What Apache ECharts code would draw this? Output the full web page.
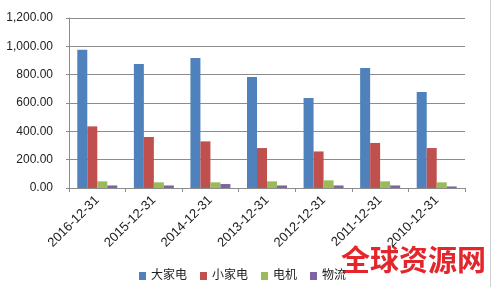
<!DOCTYPE html>
<html>
<head>
<meta charset="utf-8">
<script src="https://cdn.jsdelivr.net/npm/echarts@6/dist/echarts.min.js"></script>
<style>
html,body{margin:0;padding:0;background:#fff;}
#c{width:496px;height:287px;}
</style>
</head>
<body>
<div id="c"></div>
<script>
var categories = ['2016-12-31','2015-12-31','2014-12-31','2013-12-31','2012-12-31','2011-12-31','2010-12-31'];
var seriesNames = ['大家电','小家电','电机','物流'];
var bigAppliance = [976, 875, 918, 783, 635, 847, 678];
var smallAppliance = [435, 360, 329, 282, 258, 318, 282];
var motor = [47, 40, 40, 47, 54, 47, 40];
var logistics = [18, 18, 28, 18, 18, 18, 11];
var yTicks = [0, 200, 400, 600, 800, 1000, 1200];
var watermark = '全球资源网';

var colors = ['#4F81BD','#C0504D','#9BBB59','#8064A2'];
var seriesData = [bigAppliance, smallAppliance, motor, logistics];

function fmt(v){
  var s = v.toFixed(2);
  var parts = s.split('.');
  parts[0] = parts[0].replace(/\B(?=(\d{3})+(?!\d))/g, ',');
  return parts.join('.');
}

var chart = echarts.init(document.getElementById('c'), null, {renderer:'canvas'});
var fontFam = '"Liberation Sans","Noto Sans CJK SC",sans-serif';
chart.setOption({
  animation:false,
  backgroundColor:'#fff',
  color: colors,
  grid:{left:69, right:31, top:18, bottom:99},
  legend:{
    data: seriesNames,
    left:134, top:265,
    itemWidth:7, itemHeight:8, itemGap:13,
    icon:'rect',
    textStyle:{fontSize:12, color:'#222', fontFamily:fontFam}
  },
  xAxis:{
    type:'category', data:categories,
    axisLine:{lineStyle:{color:'#8c8c8c'}},
    axisTick:{show:true, length:4, lineStyle:{color:'#8c8c8c'}},
    axisLabel:{rotate:45, fontSize:13, color:'#222', fontFamily:fontFam, margin:10, interval:0}
  },
  yAxis:{
    type:'value', min:yTicks[0], max:yTicks[yTicks.length-1], interval:200,
    axisLine:{show:true, lineStyle:{color:'#8c8c8c'}},
    axisTick:{show:true, length:3, lineStyle:{color:'#8c8c8c'}},
    splitLine:{lineStyle:{color:'#8c8c8c'}},
    axisLabel:{formatter:fmt, fontSize:12, color:'#222', fontFamily:fontFam, margin:16}
  },
  series: seriesNames.map(function(n,i){
    return {name:n, type:'bar', data:seriesData[i], barWidth:10, barGap:'0%'};
  }),
  graphic:[
    {type:'line', shape:{x1:490.5,y1:0,x2:490.5,y2:287}, style:{stroke:'#d0d0d0', lineWidth:1}},
    {type:'text', left:341, top:245, style:{text:watermark, fill:'#E3262B', font:'bold 29px "Noto Sans CJK SC", sans-serif'}}
  ]
});
</script>
</body>
</html>
